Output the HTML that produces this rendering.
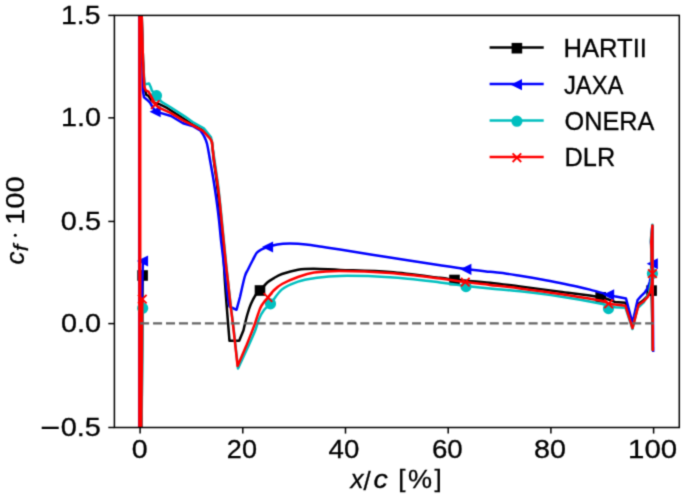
<!DOCTYPE html>
<html><head><meta charset="utf-8"><title>cf plot</title>
<style>
html,body{margin:0;padding:0;background:#fff;width:685px;height:499px;overflow:hidden}
svg{position:absolute;left:0;top:0;display:block}
text{font-family:"Liberation Sans",sans-serif;fill:#000;stroke:#000;stroke-width:0.3px}
</style></head><body>
<svg width="685" height="499" viewBox="0 0 685 499">
<defs><clipPath id="ax"><rect x="114.4" y="15.4" width="564.9" height="412.1"/></clipPath>
<filter id="soft" color-interpolation-filters="sRGB" filterUnits="userSpaceOnUse" x="0" y="0" width="685" height="499"><feConvolveMatrix order="3" kernelMatrix="0.02768 0.11101 0.02768 0.11101 0.44521 0.11101 0.02768 0.11101 0.02768" edgeMode="duplicate"/></filter></defs>
<g filter="url(#soft)"><rect x="0" y="0" width="685" height="499" fill="#fff"/>

<text transform="translate(61.03,24.20) scale(1.0902,1)" font-size="26.0">1.5</text>
<text transform="translate(60.89,126.10) scale(1.1084,1)" font-size="26.0">1.0</text>
<text transform="translate(60.85,230.24) scale(1.1098,1)" font-size="26.0">0.5</text>
<text transform="translate(61.05,332.40) scale(1.1098,1)" font-size="26.0">0.0</text>
<text transform="translate(60.64,436.10) scale(1.1127,1)" font-size="26.0">0.5</text>
<rect x="41.7" y="426.7" width="17" height="2.3" fill="#000"/>
<text transform="translate(131.66,457.60) scale(1.0978,1)" font-size="26.0">0</text>
<text transform="translate(226.85,457.60) scale(1.0407,1)" font-size="26.0">20</text>
<text transform="translate(328.55,457.60) scale(1.0623,1)" font-size="26.0">40</text>
<text transform="translate(431.92,457.60) scale(1.0633,1)" font-size="26.0">60</text>
<text transform="translate(533.95,457.60) scale(1.1053,1)" font-size="26.0">80</text>
<text transform="translate(628.05,457.60) scale(1.1315,1)" font-size="26.0">100</text>
<text transform="translate(563.45,57.00) scale(0.9858,1)" font-size="26.0">HARTII</text>
<text transform="translate(563.92,93.60) scale(0.9166,1)" font-size="26.0">JAXA</text>
<text transform="translate(564.54,129.60) scale(0.9714,1)" font-size="26.0">ONERA</text>
<text transform="translate(564.57,166.30) scale(0.9749,1)" font-size="26.0">DLR</text>
<g clip-path="url(#ax)" fill="none" stroke-linejoin="round" stroke-linecap="butt">
<path d="M142.6,275.5 L141.5,440 M141.3,-20 L141.7,15 L143,60 L144.3,88 L146.4,94.9 L148.5,95.8 L151.3,100.3 L154,102.8 L159.1,104 L167.5,108.2 L185,119.5 L192.6,124.5 L203,130.2 L210.3,138 L212,142 C212.3,145 213.05,153.67 213.8,160 C214.55,166.33 215.68,173.33 216.5,180 C217.32,186.67 218,193.33 218.7,200 C219.4,206.67 220.07,213.33 220.7,220 C221.33,226.67 221.82,230 222.5,240 C223.18,250 224.05,268.33 224.8,280 C225.55,291.67 226.22,299.87 227,310 C227.78,320.13 229.08,335.67 229.5,340.8 L239.2,340.8 L243.4,330.5 C244.03,327.92 245.97,319.37 247.2,315 C248.43,310.63 249.32,307.75 250.8,304.3 C252.28,300.85 254.57,296.6 256.1,294.3 C257.63,292 258.13,292.47 260,290.5 C261.87,288.53 265.02,284.53 267.3,282.5 C269.58,280.47 271.25,279.72 273.7,278.3 C276.15,276.88 277.95,275.43 282,274 C286.05,272.57 292.67,270.57 298,269.7 C303.33,268.83 307,268.77 314,268.8 C321,268.83 327.33,269.35 340,269.9 C352.67,270.45 373.33,270.78 390,272.1 C406.67,273.42 429.25,276.52 440,277.8 C450.75,279.08 446.17,278.98 454.5,279.8 C462.83,280.62 479.08,281.57 490,282.7 C500.92,283.83 508.33,285.08 520,286.6 C531.67,288.12 546.67,290.02 560,291.8 C573.33,293.58 590.83,295.6 600,297.3 C609.17,299 612.5,301.22 615,302 L625.5,302.8 L632.5,326 L638.3,304 L643,300.6 L647.6,296 L650.3,290.5 L651.6,290.6 L651.5,250 L652.4,226 L652.8,350 L651.6,290.6" stroke="#000000" stroke-width="2.5"/>
<g><rect x="138.10" y="271.00" width="9.0" height="9.0" fill="#000000" stroke="#000000" stroke-width="1.6" stroke-linejoin="miter"/><rect x="255.50" y="286.00" width="9.0" height="9.0" fill="#000000" stroke="#000000" stroke-width="1.6" stroke-linejoin="miter"/><rect x="450.00" y="275.50" width="9.0" height="9.0" fill="#000000" stroke="#000000" stroke-width="1.6" stroke-linejoin="miter"/><rect x="596.20" y="292.80" width="9.0" height="9.0" fill="#000000" stroke="#000000" stroke-width="1.6" stroke-linejoin="miter"/><rect x="647.10" y="286.10" width="9.0" height="9.0" fill="#000000" stroke="#000000" stroke-width="1.6" stroke-linejoin="miter"/></g>
<path d="M139.2,440 L139.2,-20 M143,261 L141.7,300 L140.8,440 M141,-20 L141.6,15 L142.3,60 L142.8,90 L144,97.3 L147,99.7 L150,102.7 L152.5,107 L155.6,111.7 L161.2,113.1 L171,116 L183,123.2 L192.6,126 L200.6,130.8 C201.13,131.62 202.73,133.55 203.8,135.7 C204.87,137.85 205.97,139.65 207,143.7 C208.03,147.75 208.92,153.95 210,160 C211.08,166.05 212.42,173.33 213.5,180 C214.58,186.67 215.58,193.33 216.5,200 C217.42,206.67 218.25,213.33 219,220 C219.75,226.67 220.17,232.5 221,240 C221.83,247.5 222.92,255.83 224,265 C225.08,274.17 226.58,288.08 227.5,295 C228.42,301.92 229.17,304.58 229.5,306.5 L236.5,309.8 L240,297 C240.8,293.58 243.47,281.08 244.8,276.5 C246.13,271.92 246.67,272.25 248,269.5 C249.33,266.75 251.33,262.78 252.8,260 C254.27,257.22 255.33,254.57 256.8,252.8 C258.27,251.03 259.73,250.37 261.6,249.4 C263.47,248.43 265.4,247.83 268,247 C270.6,246.17 273.53,244.97 277.2,244.4 C280.87,243.83 285.2,243.6 290,243.6 C294.8,243.6 300.67,243.87 306,244.4 C311.33,244.93 316.33,245.93 322,246.8 C327.67,247.67 328.67,247.8 340,249.6 C351.33,251.4 373.33,255 390,257.6 C406.67,260.2 427.28,263.3 440,265.2 C452.72,267.1 457.97,267.9 466.3,269 C474.63,270.1 483.27,271.02 490,271.8 C496.73,272.58 501.7,273.03 506.7,273.7 C511.7,274.37 514.15,274.83 520,275.8 C525.85,276.77 535.13,278.3 541.8,279.5 C548.47,280.7 554.17,281.83 560,283 C565.83,284.17 571.8,285.4 576.8,286.5 C581.8,287.6 584.62,288.22 590,289.6 C595.38,290.98 604.82,293.63 609.1,294.8 C613.38,295.97 614.6,296.3 615.7,296.6 L626,298.5 L632.5,323.1 L637.6,300 L640.8,296.4 L644.9,292.3 L647.6,288.2 L649.7,282.1 L651,276 L652.75,263.75 L651,242 L652.3,226 L653.2,352" stroke="#0000ff" stroke-width="2.5"/>
<g><path d="M138.70,261.00 L147.30,256.70 L147.30,265.30 Z" fill="#0000ff" stroke="#0000ff" stroke-width="1.6" stroke-linejoin="miter"/><path d="M151.30,111.70 L159.90,107.40 L159.90,116.00 Z" fill="#0000ff" stroke="#0000ff" stroke-width="1.6" stroke-linejoin="miter"/><path d="M263.70,247.00 L272.30,242.70 L272.30,251.30 Z" fill="#0000ff" stroke="#0000ff" stroke-width="1.6" stroke-linejoin="miter"/><path d="M462.00,269.30 L470.60,265.00 L470.60,273.60 Z" fill="#0000ff" stroke="#0000ff" stroke-width="1.6" stroke-linejoin="miter"/><path d="M604.80,294.80 L613.40,290.50 L613.40,299.10 Z" fill="#0000ff" stroke="#0000ff" stroke-width="1.6" stroke-linejoin="miter"/><path d="M648.45,263.75 L657.05,259.45 L657.05,268.05 Z" fill="#0000ff" stroke="#0000ff" stroke-width="1.6" stroke-linejoin="miter"/></g>
<path d="M142.7,308.2 L141.5,440 M141.3,-20 L141.7,15 L143,60 L144.5,84 L146.7,84 L149.1,83.4 L150.7,87 L151.9,90.7 L156.5,95.6 L161.6,101.9 L171,107.5 L185,116.6 L192.6,122 L203.8,128.4 L211,137.3 L213,150 C213.42,152.83 214.62,160.83 215.5,167 C216.38,173.17 217.47,180.33 218.3,187 C219.13,193.67 219.8,200.33 220.5,207 C221.2,213.67 221.83,220.33 222.5,227 C223.17,233.67 223.75,239.5 224.5,247 C225.25,254.5 226.25,264.83 227,272 C227.75,279.17 228.28,283.67 229,290 C229.72,296.33 230.5,303.33 231.3,310 C232.1,316.67 232.68,320.25 233.8,330 C234.92,339.75 237.3,362.08 238,368.5 L247.5,348 C248.75,345.17 253.08,335.83 255,331 C256.92,326.17 257.5,322.5 259,319 C260.5,315.5 262.08,312.53 264,310 C265.92,307.47 267.5,307.23 270.5,303.8 C273.5,300.37 277.42,293.1 282,289.4 C286.58,285.7 292.67,283.47 298,281.6 C303.33,279.73 307,279.15 314,278.2 C321,277.25 327.33,276.05 340,275.9 C352.67,275.75 373.33,276.22 390,277.3 C406.67,278.38 427.28,280.95 440,282.4 C452.72,283.85 457.97,284.97 466.3,286 C474.63,287.03 481.05,287.72 490,288.6 C498.95,289.48 508.33,289.98 520,291.3 C531.67,292.62 546.67,294.48 560,296.5 C573.33,298.52 591.92,301.82 600,303.4 C608.08,304.98 606,305.37 608.5,306 C611,306.63 613.92,307 615,307.2 L625.5,307.8 L632.5,329 L637.6,308 L644,302 L649,293 L652.4,273.6 L650.8,240 L652.4,224.7 L652.8,350 L652.4,273.6" stroke="#00bfbf" stroke-width="2.5"/>
<g><circle cx="142.70" cy="308.20" r="4.8" fill="#00bfbf" stroke="#00bfbf" stroke-width="1.6"/><circle cx="156.50" cy="95.60" r="4.8" fill="#00bfbf" stroke="#00bfbf" stroke-width="1.6"/><circle cx="270.50" cy="303.80" r="4.8" fill="#00bfbf" stroke="#00bfbf" stroke-width="1.6"/><circle cx="466.00" cy="286.60" r="4.8" fill="#00bfbf" stroke="#00bfbf" stroke-width="1.6"/><circle cx="608.50" cy="308.60" r="4.8" fill="#00bfbf" stroke="#00bfbf" stroke-width="1.6"/><circle cx="652.40" cy="273.60" r="4.8" fill="#00bfbf" stroke="#00bfbf" stroke-width="1.6"/></g>
<path d="M142.3,299 L141.2,440 L140,440 L140,-20 L141.3,-20 L141.7,15 L143,60 L144.3,87 L145.8,90.4 L148.5,91.6 L150,94.3 L152.5,99.1 L155.3,104.6 L160,108.2 L171,113.1 L183,120.4 L192.6,125.2 L203,130.8 L210.3,138.9 L211.9,142 C212.25,145 213.15,153.67 214,160 C214.85,166.33 216.08,173.33 217,180 C217.92,186.67 218.75,193.33 219.5,200 C220.25,206.67 220.83,213.33 221.5,220 C222.17,226.67 222.75,232.5 223.5,240 C224.25,247.5 225.25,258 226,265 C226.75,272 227.25,275.33 228,282 C228.75,288.67 229.67,297.83 230.5,305 C231.33,312.17 231.82,314.83 233,325 C234.18,335.17 236.83,359.17 237.6,366 L246.8,344.5 C248.03,341.35 252.33,330.65 254.2,325.6 C256.07,320.55 256.77,317.55 258,314.2 C259.23,310.85 259.93,308.28 261.6,305.5 C263.27,302.72 265.98,300 268,297.5 C270.02,295 271.37,292.75 273.7,290.5 C276.03,288.25 277.95,286.25 282,284 C286.05,281.75 292.67,278.9 298,277 C303.33,275.1 307,273.62 314,272.6 C321,271.58 327.33,270.83 340,270.9 C352.67,270.97 373.33,271.73 390,273 C406.67,274.27 427.45,276.98 440,278.5 C452.55,280.02 456.97,281.03 465.3,282.1 C473.63,283.17 480.88,283.85 490,284.9 C499.12,285.95 508.33,286.88 520,288.4 C531.67,289.92 546.67,291.97 560,294 C573.33,296.03 591.92,299.03 600,300.6 C608.08,302.17 606,302.73 608.5,303.4 C611,304.07 613.92,304.4 615,304.6 L625.5,305.8 L632.5,328.1 L638.5,305 L643,301.8 L647.6,297.1 L650.3,291.6 L651.7,284.8 L652.4,273.6 L651.2,242 L652.4,225.6 L652.8,350 L652.4,273.6" stroke="#ff0000" stroke-width="2.5"/>
<path d="M139.75,440 L139.75,-20" stroke="#ff0000" stroke-width="3.1"/>
<g><path d="M138.00,294.80 L146.60,303.40 M138.00,303.40 L146.60,294.80" stroke="#ff0000" stroke-width="1.9" fill="none"/><path d="M151.00,100.30 L159.60,108.90 M151.00,108.90 L159.60,100.30" stroke="#ff0000" stroke-width="1.9" fill="none"/><path d="M263.70,293.20 L272.30,301.80 M263.70,301.80 L272.30,293.20" stroke="#ff0000" stroke-width="1.9" fill="none"/><path d="M461.00,277.80 L469.60,286.40 M461.00,286.40 L469.60,277.80" stroke="#ff0000" stroke-width="1.9" fill="none"/><path d="M604.30,299.50 L612.90,308.10 M604.30,308.10 L612.90,299.50" stroke="#ff0000" stroke-width="1.9" fill="none"/><path d="M648.10,269.30 L656.70,277.90 M648.10,277.90 L656.70,269.30" stroke="#ff0000" stroke-width="1.9" fill="none"/></g>
<path d="M140.1,323.4 L653.6,323.4" stroke="#666" stroke-width="2.4" stroke-dasharray="9.04 3.91"/>
</g>
<g stroke="#000" stroke-width="1.5" fill="none" stroke-linecap="butt">
<rect x="114.4" y="15.4" width="564.9" height="412.1"/>
<path d="M108.3,15.4 L114.4,15.4"/>
<path d="M108.3,117.85 L114.4,117.85"/>
<path d="M108.3,221.44 L114.4,221.44"/>
<path d="M108.3,323.6 L114.4,323.6"/>
<path d="M108.3,427.5 L114.4,427.5"/>
<path d="M140.1,427.5 L140.1,433.6"/>
<path d="M242.8,427.5 L242.8,433.6"/>
<path d="M345.5,427.5 L345.5,433.6"/>
<path d="M448.2,427.5 L448.2,433.6"/>
<path d="M550.9,427.5 L550.9,433.6"/>
<path d="M653.6,427.5 L653.6,433.6"/>
</g>
<path d="M489.6,47.4 L543.7,47.4" stroke="#000000" stroke-width="2.5"/>
<rect x="512.40" y="43.70" width="9.0" height="9.0" fill="#000000" stroke="#000000" stroke-width="1.6" stroke-linejoin="miter"/>
<path d="M489.6,84.0 L543.7,84.0" stroke="#0000ff" stroke-width="2.5"/>
<path d="M512.60,84.70 L521.20,80.40 L521.20,89.00 Z" fill="#0000ff" stroke="#0000ff" stroke-width="1.6" stroke-linejoin="miter"/>
<path d="M489.6,120.6 L543.7,120.6" stroke="#00bfbf" stroke-width="2.5"/>
<circle cx="516.90" cy="121.20" r="4.8" fill="#00bfbf" stroke="#00bfbf" stroke-width="1.6"/>
<path d="M489.6,157.0 L543.7,157.0" stroke="#ff0000" stroke-width="2.5"/>
<path d="M512.60,153.40 L521.20,162.00 M512.60,162.00 L521.20,153.40" stroke="#ff0000" stroke-width="1.9" fill="none"/>
<text x="350.5" y="488" font-size="26" font-style="italic">x</text>
<text x="363.4" y="490" font-size="26">/</text>
<text transform="translate(373.6,488) scale(1.1,1)" font-size="26" font-style="italic">c</text>
<text transform="translate(398.2,486.8) scale(1,0.894)" font-size="26">[</text>
<text transform="translate(407.9,488) scale(1.04,1)" font-size="26">%</text>
<text transform="translate(434.6,486.8) scale(1,0.894)" font-size="26">]</text>
<g transform="translate(24.1,264.4) rotate(-90)"><text x="0" y="0" font-size="26" font-style="italic">c</text><text transform="translate(13.06,3.7) scale(1.2,1)" font-size="19.3" font-style="italic">f</text><circle cx="29.2" cy="-8.8" r="1.5" fill="#000"/><text transform="translate(39.6,0) scale(1.114,1)" font-size="26">100</text></g>
</g></svg></body></html>
